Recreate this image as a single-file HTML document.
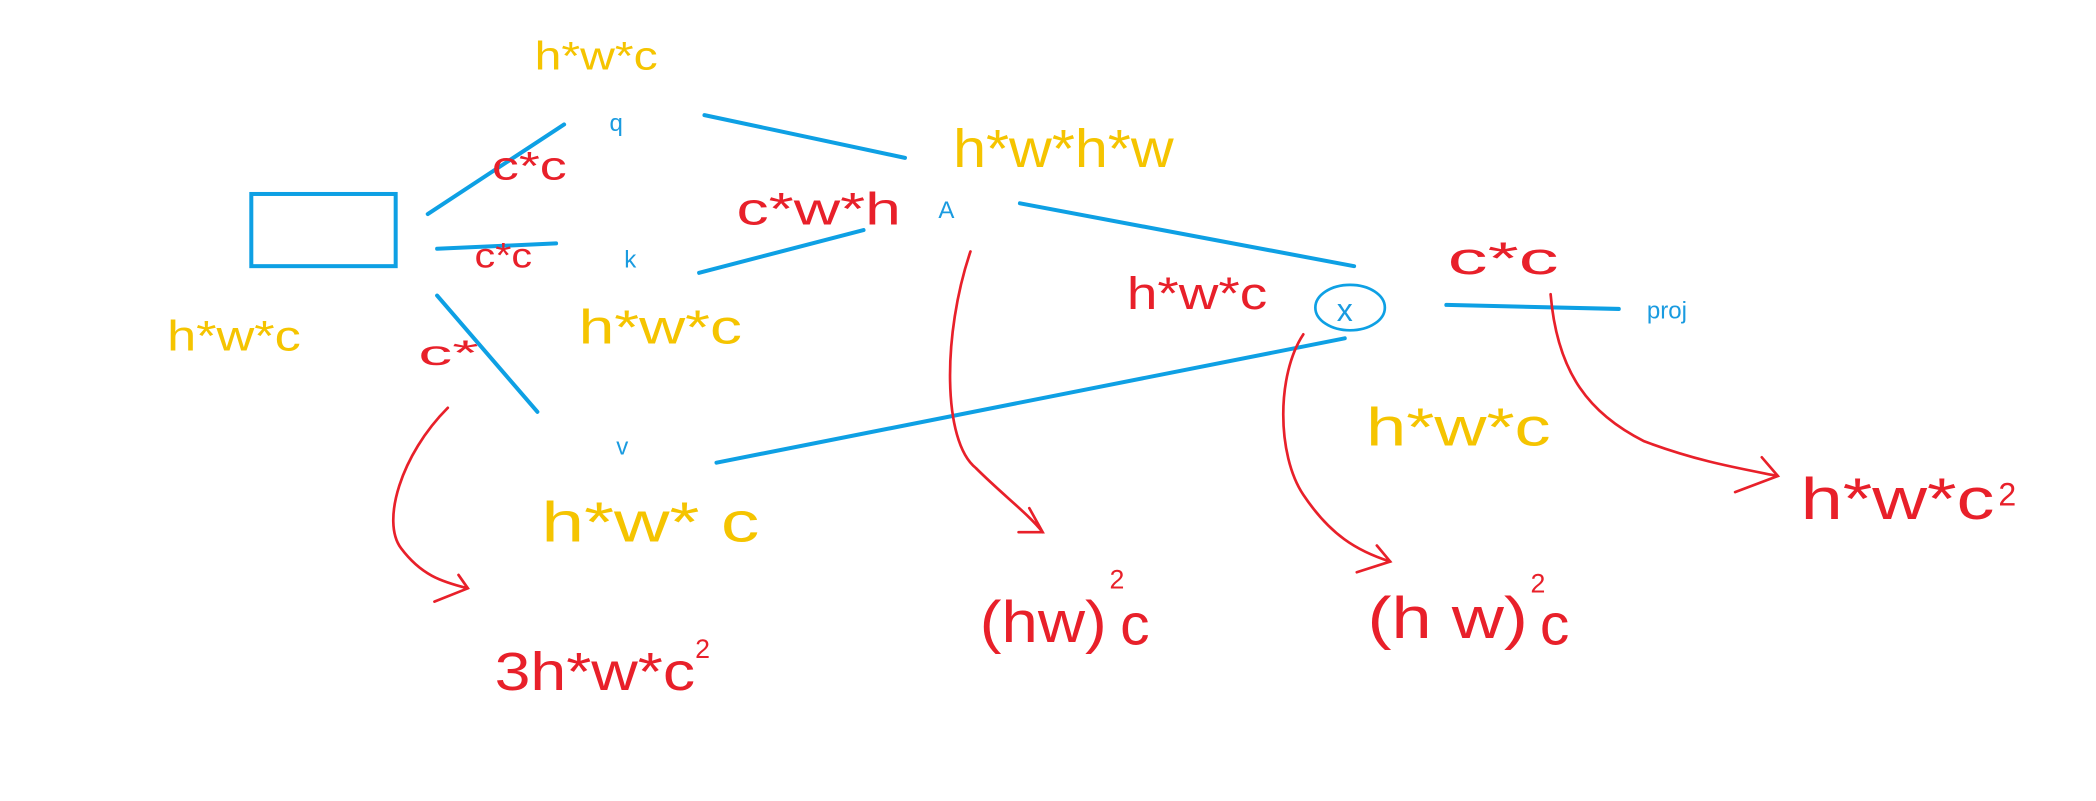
<!DOCTYPE html>
<html><head><meta charset="utf-8"><style>
html,body{margin:0;padding:0;background:#fff;width:2096px;height:801px;overflow:hidden}
svg{display:block}
.y{fill:#f5c400}.r{fill:#e8202a}.b{fill:#1a9be0}
text{font-family:"Liberation Sans",sans-serif}
.h{font-family:"Liberation Sans Narrow","Liberation Sans",sans-serif}
</style></head><body>
<svg width="2096" height="801" viewBox="0 0 1568 599" xmlns="http://www.w3.org/2000/svg">
<g stroke="#0ea0e4" stroke-width="3" fill="none" stroke-linecap="round">
<rect x="188" y="145" width="108" height="54"/>
<line x1="320" y1="160" x2="422" y2="93"/>
<line x1="327" y1="186" x2="416" y2="182"/>
<line x1="327" y1="221" x2="402" y2="308"/>
<line x1="527" y1="86" x2="677" y2="118"/>
<line x1="523" y1="204" x2="646" y2="172"/>
<line x1="763" y1="152" x2="1013" y2="199"/>
<line x1="536" y1="346" x2="1006" y2="253"/>
<line x1="1082" y1="228" x2="1211" y2="231"/>
<ellipse cx="1010" cy="230" rx="26" ry="17" stroke-width="2"/>
</g>
<text x="1000" y="240" font-size="24" class="b">x</text>
<g font-size="18" class="b">
<text x="456" y="98">q</text><text x="467" y="200">k</text><text x="702" y="163">A</text>
<text x="461" y="340">v</text><text x="1232" y="238">proj</text>
</g>
<g stroke="#e8202a" stroke-width="2" fill="none" stroke-linecap="round">
<path d="M335 305 C300 340 285 390 300 410 C315 430 330 435 350 440 M343 430 L350 440 L325 450"/>
<path d="M726 188 C705 250 705 330 730 350 C750 370 770 385 780 398 M770 380 L780 398 L762 398"/>
<path d="M975 250 C955 280 955 340 975 370 C995 400 1015 412 1040 420 M1030 408 L1040 420 L1015 428"/>
<path d="M1160 220 C1165 280 1190 310 1230 330 C1270 345 1300 350 1330 356 M1318 342 L1330 356 L1298 368"/>
</g>
<g class="y h">
<text x="400" y="52" font-size="30" textLength="92" lengthAdjust="spacingAndGlyphs">h*w*c</text>
<text x="713" y="125" font-size="40" textLength="165" lengthAdjust="spacingAndGlyphs">h*w*h*w</text>
<text x="125" y="262" font-size="32" textLength="100" lengthAdjust="spacingAndGlyphs">h*w*c</text>
<text x="433" y="257" font-size="36" textLength="122" lengthAdjust="spacingAndGlyphs">h*w*c</text>
<text x="405" y="405" font-size="42" textLength="163" lengthAdjust="spacingAndGlyphs">h*w* c</text>
<text x="1022" y="333" font-size="40" textLength="138" lengthAdjust="spacingAndGlyphs">h*w*c</text>
</g>
<g class="r h">
<text x="368" y="134" font-size="30" textLength="56" lengthAdjust="spacingAndGlyphs">c*c</text>
<text x="355" y="200" font-size="26" textLength="43" lengthAdjust="spacingAndGlyphs">c*c</text>
<text x="313" y="273" font-size="26" textLength="45" lengthAdjust="spacingAndGlyphs">c*</text>
<text x="551" y="168" font-size="34" textLength="123" lengthAdjust="spacingAndGlyphs">c*w*h</text>
<text x="843" y="231" font-size="34" textLength="105" lengthAdjust="spacingAndGlyphs">h*w*c</text>
<text x="1083" y="205" font-size="34" textLength="83" lengthAdjust="spacingAndGlyphs">c*c</text>
<text x="370" y="516" font-size="40" textLength="150" lengthAdjust="spacingAndGlyphs">3h*w*c</text>
<text x="520" y="492" font-size="20">2</text>
<text x="733" y="480" font-size="44" textLength="95" lengthAdjust="spacingAndGlyphs">(hw)</text>
<text x="830" y="440" font-size="20">2</text><text x="838" y="482" font-size="44">c</text>
<text x="1023" y="477" font-size="44" textLength="120" lengthAdjust="spacingAndGlyphs">(h w)</text>
<text x="1145" y="443" font-size="20">2</text><text x="1152" y="482" font-size="44">c</text>
<text x="1347" y="388" font-size="44" textLength="145" lengthAdjust="spacingAndGlyphs">h*w*c</text>
<text x="1495" y="378" font-size="24">2</text>
</g>
</svg>
</body></html>
